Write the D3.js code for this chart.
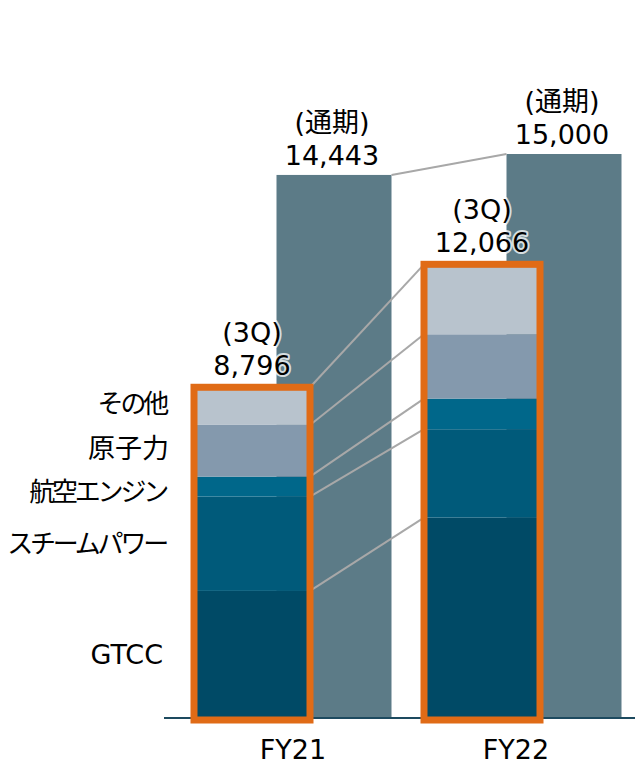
<!DOCTYPE html>
<html><head><meta charset="utf-8">
<script src="https://cdn.jsdelivr.net/npm/d3@7"></script>
<style>body{margin:0;background:#fff}</style>
</head><body><svg id="c" width="635" height="766"></svg>
<script>
// ---- data ----
const categories = ["FY21", "FY22"];
const segments = ["GTCC", "スチームパワー", "航空エンジン", "原子力", "その他"];
const q3FY21 = [3380, 2510, 530, 1375, 1001];
const q3FY22 = [5330, 2350, 815, 1710, 1861];
const q3Totals = [8796, 12066];
const fullYear = [14443, 15000];
const q3Label = "(3Q)";
const fullLabel = "(通期)";

// ---- styles ----
const segColors = ["#004a66", "#005a7a", "#00678a", "#8499ad", "#b8c3cd"];
const fullColor = "#5c7b87";
const frameColor = "#e06b16";
const linkColor = "#a8a8a8";
const latinFont = "'DejaVu Sans', 'Noto Sans CJK JP', sans-serif";
const cjkFont = "'Noto Sans CJK JP', 'DejaVu Sans', sans-serif";

const svg = d3.select("#c");
const x = d3.scaleBand().domain(categories).range([178, 638]).padding(0);
const y = d3.scaleLinear().domain([0, 15000]).range([718, 154]);
const off = 41, wFull = 115, wQ = 116, frameW = 7;
const cx = c => x(c) + x.bandwidth() / 2;
const qCx = c => cx(c) - off;
const fCx = c => cx(c) + off;

const rows = categories.map((c, i) => {
  const vals = i === 0 ? q3FY21 : q3FY22;
  const r = { cat: c };
  segments.forEach((s, j) => r[s] = vals[j]);
  return r;
});
const stacked = d3.stack().keys(segments)(rows);

// full-year bars
svg.append("g").selectAll("rect").data(categories).join("rect")
  .attr("x", c => fCx(c) - wFull / 2).attr("width", wFull)
  .attr("y", (c, i) => y(fullYear[i])).attr("height", (c, i) => y(0) - y(fullYear[i]))
  .attr("fill", fullColor);

// full-year connector
svg.append("line")
  .attr("x1", fCx(categories[0]) + wFull / 2).attr("y1", y(fullYear[0]))
  .attr("x2", fCx(categories[1]) - wFull / 2).attr("y2", y(fullYear[1]))
  .attr("stroke", linkColor).attr("stroke-width", 2);

// 3Q stacked bars
svg.append("g").selectAll("g").data(stacked).join("g")
  .attr("fill", (d, i) => segColors[i])
  .selectAll("rect").data(d => d).join("rect")
  .attr("x", d => qCx(d.data.cat) - wQ / 2).attr("width", wQ)
  .attr("y", d => y(d[1])).attr("height", d => y(d[0]) - y(d[1]));

// segment connectors (top of each segment)
svg.append("g").selectAll("line").data(stacked).join("line")
  .attr("x1", qCx(categories[0]) + wQ / 2).attr("y1", d => y(d[0][1]))
  .attr("x2", qCx(categories[1]) - wQ / 2).attr("y2", d => y(d[1][1]))
  .attr("stroke", linkColor).attr("stroke-width", 2);

// baseline
svg.append("line").attr("x1", 164).attr("x2", 635).attr("y1", y(0)).attr("y2", y(0))
  .attr("stroke", "#1d4a5f").attr("stroke-width", 2);

// orange frames
svg.append("g").selectAll("rect").data(categories).join("rect")
  .attr("x", c => qCx(c) - wQ / 2).attr("width", wQ)
  .attr("y", (c, i) => y(q3Totals[i])).attr("height", (c, i) => y(0) + 2 - y(q3Totals[i]))
  .attr("fill", "none").attr("stroke", frameColor).attr("stroke-width", frameW);

// value labels
const fmt = d3.format(",");
function twoLine(cxv, baseY, top, num) {
  const g = svg.append("g").attr("font-family", latinFont).attr("font-size", 27)
    .attr("text-anchor", "middle").attr("fill", "#000");
  [[top, baseY - 33], [num, baseY]].forEach(([t, yy]) => {
    g.append("text").attr("x", cxv).attr("y", yy).text(t)
      .attr("stroke", "#fff").attr("stroke-width", 4).attr("stroke-opacity", 0.75)
      .attr("paint-order", "stroke").attr("stroke-linejoin", "round");
  });
}
categories.forEach((c, i) => {
  twoLine(fCx(c) - 2, y(fullYear[i]) - 10, fullLabel, fmt(fullYear[i]));
  twoLine(qCx(c), y(q3Totals[i]) - 12.5, q3Label, fmt(q3Totals[i]));
});

// category labels
svg.append("g").selectAll("text").data(categories).join("text")
  .attr("x", (c, i) => i === 0 ? cx(c) : cx(c) - 7).attr("y", 759)
  .attr("text-anchor", "middle").attr("font-family", latinFont).attr("font-size", 27)
  .attr("fill", "#000").text(c => c);

// segment labels (left), at FY21 segment centers with collision relaxation
const ly = stacked.map(s => (y(s[0][0]) + y(s[0][1])) / 2);
for (let it = 0; it < 200; it++) {
  for (let k = 0; k < ly.length - 1; k++) {
    const gap = ly[k] - ly[k + 1];
    if (gap < 44) { const d = (44 - gap) / 2; ly[k] += d; ly[k + 1] -= d; }
  }
}
const isLatin = s => /^[A-Z]+$/.test(s);
const hasKana = s => /[\u3040-\u30ff]/.test(s);
svg.append("g").selectAll("text").data(segments).join("text")
  .attr("x", s => isLatin(s) ? 163 : hasKana(s) ? 166 : 169)
  .attr("y", (s, i) => ly[i]).attr("dy", "0.36em")
  .attr("text-anchor", "end")
  .attr("font-family", s => isLatin(s) ? latinFont : cjkFont)
  .attr("font-size", s => hasKana(s) ? 26 : 27)
  .style("letter-spacing", s => hasKana(s) ? "-3.2px" : null)
  .attr("fill", "#000").text(s => s);
</script>
</body></html>
